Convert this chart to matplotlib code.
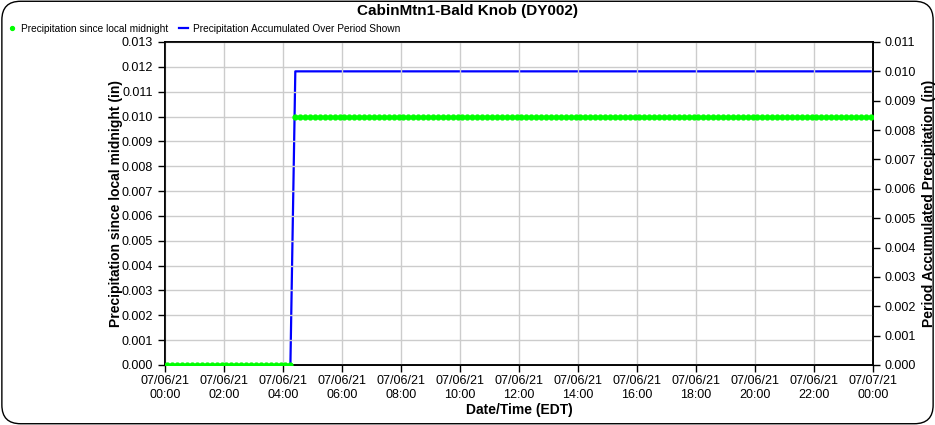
"""CabinMtn1-Bald Knob (DY002) precipitation chart, 07/06/21."""

import matplotlib

matplotlib.use("Agg")
import matplotlib.pyplot as plt
import matplotlib.dates as mdates
from matplotlib.patches import FancyBboxPatch
import pandas as pd

plt.rcParams["font.family"] = ["Liberation Sans", "DejaVu Sans"]

# 10-minute observations through the day
times = pd.date_range("2021-07-06 00:05", "2021-07-06 23:55", freq="10min")
# precipitation since local midnight (in): dry until 04:15, 0.010 from 04:25 on
since_midnight = [0.0] * 26 + [0.010] * 118
# accumulated over period shown (in)
accumulated = [0.0] * 26 + [0.010] * 118

x_start = pd.Timestamp("2021-07-06 00:00")
x_end = pd.Timestamp("2021-07-07 00:00")

fig = plt.figure(figsize=(9.35, 4.25), dpi=100)
fig.patches.append(FancyBboxPatch((0.002, 0.003), 0.996, 0.994,
                                  boxstyle="round,pad=0,rounding_size=0.02",
                                  transform=fig.transFigure, fill=False,
                                  ec="black", lw=1.0,
                                  mutation_aspect=935 / 425))

ax = fig.add_axes([0.1765, 0.1412, 0.7572, 0.76])
ax2 = ax.twinx()

ax.plot(times, since_midnight, "o", color="#00ff00", ms=3.5, zorder=3,
        label="Precipitation since local midnight")
ax2.plot(times, accumulated, "-", color="#0000ff", lw=1.6, zorder=2,
         label="Precipitation Accumulated Over Period Shown")
ax.set_zorder(ax2.get_zorder() + 1)
ax.patch.set_visible(False)

ax.set_xlim(x_start, x_end)
ax.set_ylim(0, 0.013)
ax2.set_ylim(0, 0.011)
ax.set_yticks([i * 0.001 for i in range(14)])
ax2.set_yticks([i * 0.001 for i in range(12)])
ax.yaxis.set_major_formatter(matplotlib.ticker.FormatStrFormatter("%.3f"))
ax2.yaxis.set_major_formatter(matplotlib.ticker.FormatStrFormatter("%.3f"))

ax.xaxis.set_major_locator(mdates.HourLocator(byhour=range(0, 24, 2)))
ax.xaxis.set_major_formatter(mdates.DateFormatter("%m/%d/%y\n%H:%M"))

ax.grid(True, color="#cccccc", lw=1.0)
ax.set_axisbelow(True)
for a in (ax, ax2):
    a.tick_params(labelsize=9, length=5, width=1, colors="black",
                  direction="out")
    for sp in a.spines.values():
        sp.set_linewidth(1.2)
ax.tick_params(axis="x", pad=2)

ax.set_xlabel("Date/Time (EDT)", fontsize=10, fontweight="bold", labelpad=2)
ax.set_ylabel("Precipitation since local midnight (in)", fontsize=10,
              fontweight="bold", labelpad=-1)
ax2.set_ylabel("Period Accumulated Precipitation (in)", fontsize=10,
               fontweight="bold", labelpad=4)

fig.text(0.5, 0.975, "CabinMtn1-Bald Knob (DY002)", ha="center", va="center",
         fontsize=11, fontweight="bold")

h1, l1 = ax.get_legend_handles_labels()
h2, l2 = ax2.get_legend_handles_labels()
fig.legend(h1 + h2, l1 + l2, loc="center left", bbox_to_anchor=(0.0, 0.932),
           ncol=2, frameon=False, fontsize=7.3, handlelength=0.9,
           handletextpad=0.5, columnspacing=1.0, markerscale=0.8,
           borderaxespad=0.3)

fig.savefig("out.png", dpi=100)
